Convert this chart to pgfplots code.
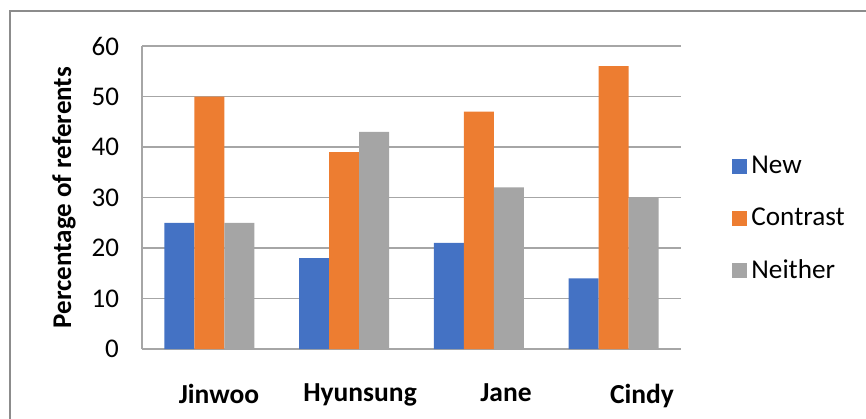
\documentclass[border=0pt]{standalone}
\usepackage{pgfplots}
\pgfplotsset{compat=1.18}
\usepackage{fontspec}
\setmainfont{Carlito}
\definecolor{cBlue}{HTML}{4472C4}
\definecolor{cOrange}{HTML}{ED7D31}
\definecolor{cGray}{HTML}{A5A5A5}
\definecolor{lineGray}{HTML}{A6A6A6}
\definecolor{frameGray}{HTML}{8C8C8C}
\begin{document}
\begin{tikzpicture}[x=0.5pt,y=0.5pt]
\useasboundingbox (0,0) rectangle (866,418);
\draw[frameGray, line width=0.75pt] (10,-20) -- (10,407) -- (890,407);
\coordinate (A) at (142,69);
\node[rotate=90, font=\bfseries\fontsize{13.5}{16}\selectfont] at (64,220.5) {Percentage of referents};
\begin{axis}[
  at={(A)}, anchor=south west,
  scale only axis, width=269.5pt, height=151.5pt,
  ybar=0pt, bar width=15pt,
  xmin=-0.5, xmax=3.5, ymin=0, ymax=60,
  ytick={0,10,...,60},
  xtick={0.071,1.118,2.201,3.211},
  xticklabels={Jinwoo,Hyunsung,Jane,Cindy},
  xticklabel style={font=\bfseries\fontsize{13.75}{16}\selectfont, yshift=-14pt},
  yticklabel style={font=\fontsize{13.5}{16}\selectfont, xshift=-8pt},
  /pgf/number format/assume math mode=true,
  major tick length=0pt,
  axis x line*=bottom, axis y line*=left,
  axis line style={lineGray, line width=0.75pt, -},
  ymajorgrids, grid style={lineGray, line width=0.75pt},
  legend style={at={(axis description cs:1.0946,0.429)}, anchor=west, draw=none, fill=none, inner sep=0pt, row sep=11.5pt, font=\fontsize{13.6}{16}\selectfont},
  legend cell align=left,
  legend image code/.code={\fill[#1] (0pt,-3.75pt) rectangle (7.5pt,3.75pt);},
]
\addplot[fill=cBlue, draw=none] coordinates {(0,25) (1,18) (2,21) (3,14)};
\addplot[fill=cOrange, draw=none] coordinates {(0,50) (1,39) (2,47) (3,56)};
\addplot[fill=cGray, draw=none] coordinates {(0,25) (1,43) (2,32) (3,30)};
\legend{New,Contrast,Neither}
\end{axis}
\end{tikzpicture}
\end{document}
